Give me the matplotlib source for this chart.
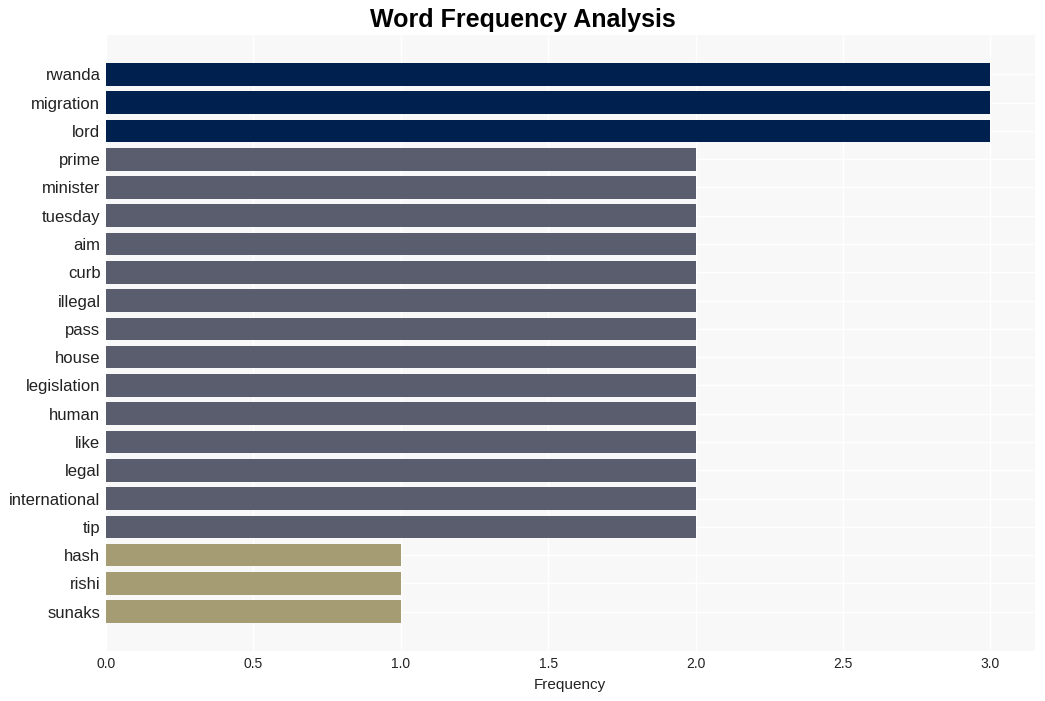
import matplotlib.pyplot as plt

plt.rcParams['font.family'] = ['Liberation Sans', 'DejaVu Sans']

words = ['rwanda', 'migration', 'lord', 'prime', 'minister', 'tuesday', 'aim',
         'curb', 'illegal', 'pass', 'house', 'legislation', 'human', 'like',
         'legal', 'international', 'tip', 'hash', 'rishi', 'sunaks']
counts = [3, 3, 3, 2, 2, 2, 2, 2, 2, 2, 2, 2, 2, 2, 2, 2, 2, 1, 1, 1]

palette = {3: '#00204f', 2: '#595d6e', 1: '#a59c74'}
colors = [palette[c] for c in counts]

fig = plt.figure(figsize=(10.45, 7.01), dpi=100)
ax = fig.add_axes([0.1014, 0.0713, 0.8886, 0.8787])
ax.set_facecolor('#f8f8f8')

ax.barh(words, counts, color=colors, height=0.8, zorder=2)
ax.invert_yaxis()

ax.grid(True, color='white', linewidth=1, zorder=0)
for s in ax.spines.values():
    s.set_visible(False)
ax.tick_params(axis='both', length=0)
ax.tick_params(axis='y', labelsize=12, colors='#222222', pad=4)
ax.tick_params(axis='x', labelsize=10, colors='#222222', pad=4)

ax.set_xlabel('Frequency', fontsize=11, color='#222222', labelpad=5)
fig.text(0.5, 0.971, 'Word Frequency Analysis', fontsize=18, fontweight='bold',
         ha='center', va='center')

fig.savefig('out.png', dpi=100)
